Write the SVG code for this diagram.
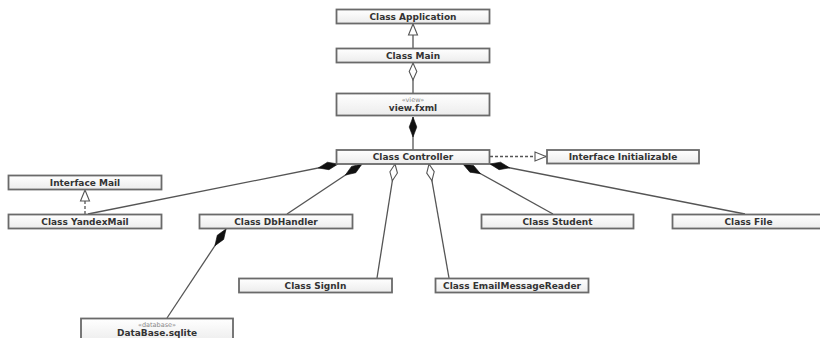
<svg xmlns="http://www.w3.org/2000/svg" width="820" height="338" viewBox="0 0 820 338">
<style>
.box{fill:url(#g);stroke:#6a6a6a;stroke-width:1.8}
.t{font-family:"DejaVu Sans",Verdana,sans-serif;font-weight:bold;font-size:9px;fill:#333;text-anchor:middle}
.st{font-family:"DejaVu Sans",Verdana,sans-serif;font-size:6.5px;fill:#888;text-anchor:middle}
.ln{stroke:#555;stroke-width:1.3;fill:none}
.dash{stroke-dasharray:3,2}
</style>
<defs>
<linearGradient id="g" x1="0" y1="0" x2="0" y2="1">
<stop offset="0" stop-color="#ffffff"/>
<stop offset="1" stop-color="#ececec"/>
</linearGradient>
<marker id="fd" markerUnits="userSpaceOnUse" orient="auto" overflow="visible" markerWidth="20" markerHeight="8" refX="0" refY="0">
<path d="M0,0 L10,-3.8 L20,0 L10,3.8 Z" fill="#111" stroke="#111" stroke-width="0.6"/>
</marker>
<marker id="hd" markerUnits="userSpaceOnUse" orient="auto" overflow="visible" markerWidth="18" markerHeight="8" refX="0" refY="0">
<path d="M0,0 L8.5,-3.8 L17,0 L8.5,3.8 Z" fill="#fff" stroke="#555" stroke-width="1.1"/>
</marker>
<marker id="tri" markerUnits="userSpaceOnUse" orient="auto" overflow="visible" markerWidth="12" markerHeight="10" refX="0" refY="0">
<path d="M0,0 L-11,-4.5 L-11,4.5 Z" fill="#fff" stroke="#555" stroke-width="1.1" stroke-dasharray="none"/>
</marker>
</defs>
<g id="connectors">
<line class="ln" x1="413" y1="48" x2="413" y2="24" marker-end="url(#tri)"/>
<line class="ln" x1="413" y1="63" x2="413" y2="93" marker-start="url(#hd)"/>
<line class="ln" x1="413" y1="117" x2="413" y2="150" marker-start="url(#fd)"/>
<line class="ln dash" x1="490" y1="156.5" x2="546" y2="156.5" marker-end="url(#tri)"/>
<line class="ln dash" x1="85" y1="214" x2="85" y2="190" marker-end="url(#tri)"/>
<line class="ln" x1="338" y1="164" x2="88" y2="214" marker-start="url(#fd)"/>
<line class="ln" x1="362" y1="164" x2="287" y2="214" marker-start="url(#fd)"/>
<line class="ln" x1="395" y1="164" x2="377" y2="278" marker-start="url(#hd)"/>
<line class="ln" x1="429" y1="164" x2="449" y2="278" marker-start="url(#hd)"/>
<line class="ln" x1="463" y1="164" x2="553" y2="214" marker-start="url(#fd)"/>
<line class="ln" x1="490" y1="164" x2="745" y2="214" marker-start="url(#fd)"/>
<line class="ln" x1="226" y1="229" x2="167" y2="318" marker-start="url(#fd)"/>
</g>
<g id="application"><rect class="box" x="336.5" y="9.5" width="153" height="14"/><text class="t" x="413" y="19.5">Class Application</text></g>
<g id="main"><rect class="box" x="336.5" y="48.5" width="153" height="14"/><text class="t" x="413" y="58.5">Class Main</text></g>
<g id="view"><rect class="box" x="336.5" y="93.5" width="153" height="22"/><text class="st" x="413" y="101.5">«view»</text><text class="t" x="413" y="111">view.fxml</text></g>
<g id="controller"><rect class="box" x="336.5" y="150" width="153" height="14"/><text class="t" x="413" y="160">Class Controller</text></g>
<g id="initializable"><rect class="box" x="547" y="150" width="152" height="13.5"/><text class="t" x="623" y="160">Interface Initializable</text></g>
<g id="mail"><rect class="box" x="8.5" y="175.5" width="153" height="14"/><text class="t" x="85" y="185.5">Interface Mail</text></g>
<g id="yandexmail"><rect class="box" x="8.5" y="214.5" width="153" height="14"/><text class="t" x="85" y="224.5">Class YandexMail</text></g>
<g id="dbhandler"><rect class="box" x="199.5" y="214.5" width="153" height="14"/><text class="t" x="276" y="224.5">Class DbHandler</text></g>
<g id="student"><rect class="box" x="481.5" y="214.5" width="152" height="14"/><text class="t" x="557.5" y="224.5">Class Student</text></g>
<g id="file"><rect class="box" x="672.5" y="214.5" width="152" height="14"/><text class="t" x="748.5" y="224.5">Class File</text></g>
<g id="signin"><rect class="box" x="239" y="278.5" width="153" height="14"/><text class="t" x="315.5" y="288.5">Class SignIn</text></g>
<g id="emailmessagereader"><rect class="box" x="435.5" y="278.5" width="153" height="14"/><text class="t" x="512" y="288.5">Class EmailMessageReader</text></g>
<g id="database"><rect class="box" x="81" y="318.5" width="152" height="24"/><text class="st" x="157" y="326.5">«database»</text><text class="t" x="157" y="336">DataBase.sqlite</text></g>
</svg>
